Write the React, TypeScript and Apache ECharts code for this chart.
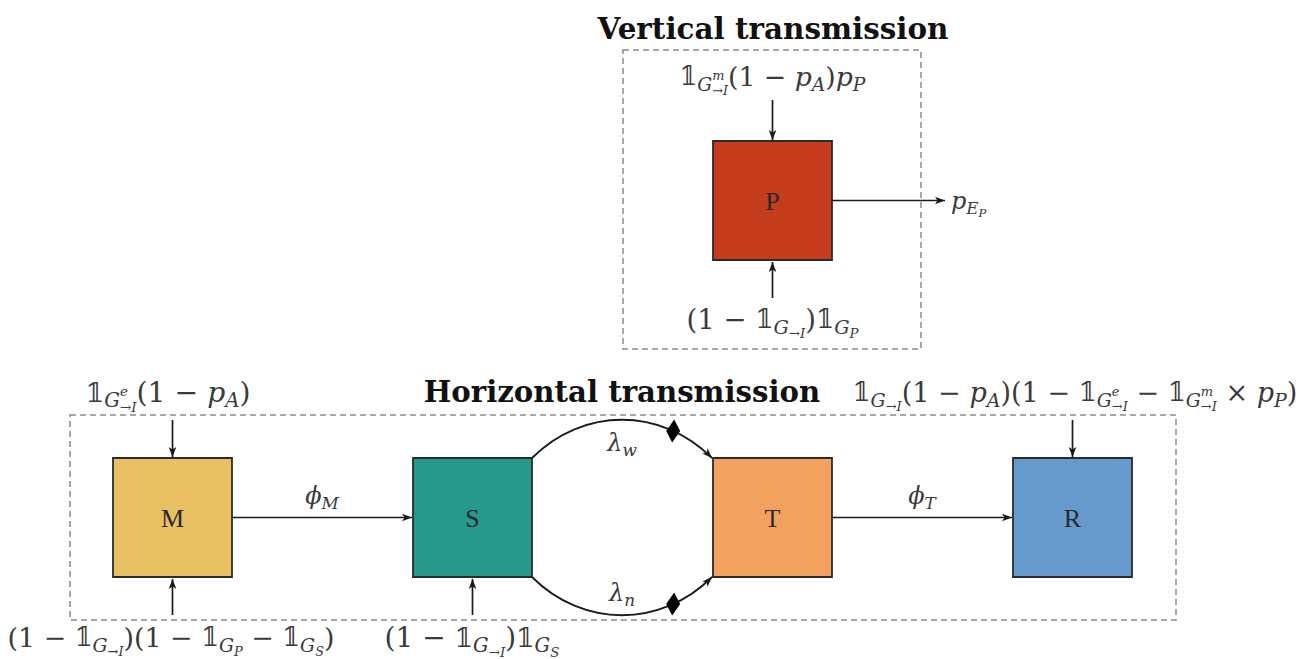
import React, { useEffect, useRef } from 'react';
import * as echarts from 'echarts';

// ---------- data ----------
const compartments = ['M', 'S', 'T', 'R'];
const compartmentColors = ['#E8C063', '#26998A', '#F2A15F', '#6699CC'];
const verticalNode = 'P';
const verticalColor = '#C43C1B';

const titleVertical = 'Vertical transmission';
const titleHorizontal = 'Horizontal transmission';

const ONE = '\u{1D7D9}';
type Tok = [string, string, number?];
const fTopP: Tok[] = [[ONE, 'b'], ['G', 'si'], ['m', 'su', 1], ['→I', 'ssi'], ['(1 − ', 'r'], ['p', 'i'], ['A', 'si'], [')', 'r'], ['p', 'i'], ['P', 'si']];
const fBotP: Tok[] = [['(1 − ', 'r'], [ONE, 'b'], ['G', 'si'], ['→I', 'ssi'], [')', 'r'], [ONE, 'b'], ['G', 'si'], ['P', 'ssi']];
const fOutP: Tok[] = [['p', 'i'], ['E', 'si'], ['P', 'ssi']];
const fTopM: Tok[] = [[ONE, 'b'], ['G', 'si'], ['e', 'su', 1], ['→I', 'ssi'], ['(1 − ', 'r'], ['p', 'i'], ['A', 'si'], [')', 'r']];
const fTopR: Tok[] = [[ONE, 'b'], ['G', 'si'], ['→I', 'ssi'], ['(1 − ', 'r'], ['p', 'i'], ['A', 'si'], [')(1 − ', 'r'], [ONE, 'b'], ['G', 'si'], ['e', 'su', 1], ['→I', 'ssi'], [' − ', 'r'], [ONE, 'b'], ['G', 'si'], ['m', 'su', 1], ['→I', 'ssi'], [' × ', 'r'], ['p', 'i'], ['P', 'si'], [')', 'r']];
const fBotM: Tok[] = [['(1 − ', 'r'], [ONE, 'b'], ['G', 'si'], ['→I', 'ssi'], [')(1 − ', 'r'], [ONE, 'b'], ['G', 'si'], ['P', 'ssi'], [' − ', 'r'], [ONE, 'b'], ['G', 'si'], ['S', 'ssi'], [')', 'r']];
const fBotS: Tok[] = [['(1 − ', 'r'], [ONE, 'b'], ['G', 'si'], ['→I', 'ssi'], [')', 'r'], [ONE, 'b'], ['G', 'si'], ['S', 'ssi']];
const fPhiM: Tok[] = [['ϕ', 'i'], ['M', 'si']];
const fPhiT: Tok[] = [['ϕ', 'i'], ['T', 'si']];
const fLamW: Tok[] = [['λ', 'i'], ['w', 'si']];
const fLamN: Tok[] = [['λ', 'i'], ['n', 'si']];

// ---------- style ----------
const MATH_FAMILY = '"DejaVu Serif", serif';
const LABEL_FAMILY = '"Liberation Serif", "DejaVu Serif", serif';
const BB_FAMILY = '"DejaVu Serif", "DejaVu Sans", serif';
const TITLE_FAMILY = '"DejaVu Serif", serif';
const INK = '#1a1a1a';
const TEXT = '#3a3a3a';
const BASE = 24;
const STY: Record<string, { s: number; dy: number; it: boolean; fam?: string }> = {
  r: { s: 1, dy: 0, it: false },
  i: { s: 1, dy: 0, it: true },
  b: { s: 0.95, dy: 0, it: false, fam: BB_FAMILY },
  si: { s: 0.7, dy: 0.3, it: true },
  sr: { s: 0.7, dy: 0.3, it: false },
  su: { s: 0.48, dy: -0.03, it: true },
  ssi: { s: 0.48, dy: 0.54, it: true },
};

let ctx: CanvasRenderingContext2D | null = null;
function measure(text: string, font: string) {
  if (!ctx) ctx = document.createElement('canvas').getContext('2d');
  ctx!.font = font;
  return ctx!.measureText(text).width;
}
function fontOf(k: string, base: number) {
  const st = STY[k];
  return `${st.it ? 'italic ' : ''}${(st.s * base).toFixed(2)}px ${st.fam || MATH_FAMILY}`;
}

function layout(toks: Tok[], base: number) {
  const items: any[] = [];
  let x = 0;
  let i = 0;
  while (i < toks.length) {
    const [t, k, stack] = toks[i];
    const f = fontOf(k, base);
    const w = measure(t, f);
    if (stack && i + 1 < toks.length) {
      const [t2, k2] = toks[i + 1];
      const f2 = fontOf(k2, base);
      const w2 = measure(t2, f2);
      items.push({ t, f, x, dy: STY[k].dy * base });
      items.push({ t: t2, f: f2, x, dy: STY[k2].dy * base });
      x += Math.max(w, w2);
      i += 2;
    } else {
      items.push({ t, f, x, dy: STY[k].dy * base });
      x += w;
      i += 1;
    }
  }
  return { items, width: x };
}

function formula(toks: Tok[], cx: number, cy: number, target = 0, anchor: 'center' | 'left' = 'center') {
  let base = BASE;
  if (target > 0) {
    const w0 = layout(toks, 100).width;
    base = (100 * target) / w0;
  }
  const { items, width } = layout(toks, base);
  const x0 = anchor === 'center' ? cx - width / 2 : cx;
  return items.map((it) => ({
    type: 'text',
    x: x0 + it.x,
    y: cy + it.dy,
    silent: true,
    style: {
      text: it.t,
      font: it.f,
      fill: TEXT,
      align: 'left',
      verticalAlign: 'middle',
      textAlign: 'left',
      textVerticalAlign: 'middle',
    },
  }));
}

function arrowHead(tx: number, ty: number, dx: number, dy: number) {
  const L = Math.hypot(dx, dy);
  const ux = dx / L, uy = dy / L;
  const nx = -uy, ny = ux;
  const len = 10, hw = 3.8, inset = 2.5;
  return {
    type: 'polygon',
    silent: true,
    shape: {
      points: [
        [tx, ty],
        [tx - ux * len + nx * hw, ty - uy * len + ny * hw],
        [tx - ux * (len - inset), ty - uy * (len - inset)],
        [tx - ux * len - nx * hw, ty - uy * len - ny * hw],
      ],
    },
    style: { fill: INK },
  };
}

function arrow(x1: number, y1: number, x2: number, y2: number) {
  return [
    { type: 'line', silent: true, shape: { x1, y1, x2, y2 }, style: { stroke: INK, lineWidth: 1.7 } },
    arrowHead(x2, y2, x2 - x1, y2 - y1),
  ];
}

function box(x: number, y: number, size: number, color: string, label: string) {
  return [
    { type: 'rect', silent: true, shape: { x, y, width: size, height: size }, style: { fill: color, stroke: '#2b2b2b', lineWidth: 1.8 } },
    {
      type: 'text', silent: true, x: x + size / 2, y: y + size / 2 + 1,
      style: { text: label, font: `26px ${LABEL_FAMILY}`, fill: '#2a2a2a', align: 'center', verticalAlign: 'middle', textAlign: 'center', textVerticalAlign: 'middle' },
    },
  ];
}

function dashedRect(x1: number, y1: number, x2: number, y2: number) {
  return {
    type: 'rect', silent: true,
    shape: { x: x1, y: y1, width: x2 - x1, height: y2 - y1 },
    style: { fill: 'none', stroke: '#8a8a8a', lineWidth: 1.5, lineDash: [6, 4] },
  };
}

function bez(p: number[][], t: number) {
  const m = 1 - t;
  const a = m * m * m, b = 3 * m * m * t, c = 3 * m * t * t, d = t * t * t;
  return [a * p[0][0] + b * p[1][0] + c * p[2][0] + d * p[3][0], a * p[0][1] + b * p[1][1] + c * p[2][1] + d * p[3][1]];
}

function curve(x0: number, y0: number, x3: number, y3: number, bulge: number) {
  const k = 51;
  const p = [[x0, y0], [x0 + k, y0 + bulge], [x3 - k, y3 + bulge], [x3, y3]];
  const c = bez(p, 0.77);
  const dw = 7, dh = 11.5;
  return [
    {
      type: 'bezierCurve', silent: true,
      shape: { x1: x0, y1: y0, cpx1: p[1][0], cpy1: p[1][1], cpx2: p[2][0], cpy2: p[2][1], x2: x3, y2: y3 },
      style: { stroke: INK, lineWidth: 1.8, fill: 'none' },
    },
    arrowHead(x3, y3, x3 - p[2][0], y3 - p[2][1]),
    {
      type: 'polygon', silent: true,
      shape: { points: [[c[0] + 1, c[1] - dh], [c[0] + dw, c[1]], [c[0] - 1, c[1] + dh], [c[0] - dw, c[1]]] },
      style: { fill: '#000' },
    },
  ];
}

function titleText(text: string, cx: number, cy: number, width: number) {
  const size = (100 * width) / measure(text, `bold 100px ${TITLE_FAMILY}`);
  return {
    type: 'text', silent: true, x: cx, y: cy,
    style: { text, font: `bold ${size.toFixed(1)}px ${TITLE_FAMILY}`, fill: '#111', align: 'center', verticalAlign: 'middle', textAlign: 'center', textVerticalAlign: 'middle' },
  };
}

function buildGraphic() {
  const S = 119;
  const left = 113, gap = 300, rowY = 458;
  const bx = compartments.map((_, i) => left + i * gap);
  const midY = rowY + S / 2;
  const pX = bx[2], pY = 141;
  const els: any[] = [];

  // frames
  els.push(dashedRect(623, 50, 921, 349));
  els.push(dashedRect(70, 415, 1176, 620));

  // titles
  els.push(titleText(titleVertical, 773, 28, 351));
  els.push(titleText(titleHorizontal, 622, 392, 396));

  // vertical transmission
  els.push(...box(pX, pY, S, verticalColor, verticalNode));
  const pcx = pX + S / 2;
  els.push(...arrow(pcx, pY - 41, pcx, pY - 1));
  els.push(...arrow(pcx, pY + S + 38, pcx, pY + S + 2));
  els.push(...arrow(pX + S, pY + S / 2, 945, pY + S / 2));
  els.push(...formula(fTopP, pcx, 76, 186));
  els.push(...formula(fBotP, pcx, 319, 172));
  els.push(...formula(fOutP, 951, pY + S / 2, 0, 'left'));

  // horizontal transmission
  compartments.forEach((n, i) => els.push(...box(bx[i], rowY, S, compartmentColors[i], n)));
  const cxs = bx.map((x) => x + S / 2);
  els.push(...arrow(cxs[0], rowY - 38, cxs[0], rowY - 1));
  els.push(...arrow(cxs[3], rowY - 38, cxs[3], rowY - 1));
  els.push(...arrow(cxs[0], rowY + S + 38, cxs[0], rowY + S + 2));
  els.push(...arrow(cxs[1], rowY + S + 38, cxs[1], rowY + S + 2));
  els.push(...arrow(bx[0] + S, midY, bx[1] - 1, midY));
  els.push(...arrow(bx[2] + S, midY, bx[3] - 1, midY));
  els.push(...curve(bx[1] + S, rowY, bx[2] - 1, rowY, -51));
  els.push(...curve(bx[1] + S, rowY + S, bx[2] - 1, rowY + S, 51));

  els.push(...formula(fTopM, 168, 392, 165));
  els.push(...formula(fTopR, 1075, 392, 445));
  els.push(...formula(fBotM, 171, 637, 327));
  els.push(...formula(fBotS, 472, 637, 175));
  els.push(...formula(fPhiM, 322, 496));
  els.push(...formula(fPhiT, 922, 496));
  els.push(...formula(fLamW, 622, 443));
  els.push(...formula(fLamN, 622, 593));
  return els;
}

export default function App() {
  const ref = useRef<HTMLDivElement>(null);
  useEffect(() => {
    if (!ref.current) return;
    const chart = echarts.init(ref.current, null, { renderer: 'svg' });
    chart.setOption({
      animation: false,
      backgroundColor: '#ffffff',
      graphic: { elements: buildGraphic() },
    });
    return () => chart.dispose();
  }, []);
  return <div ref={ref} style={{ position: 'fixed', left: 0, top: 0, width: 1309, height: 659, background: '#fff' }} />;
}
